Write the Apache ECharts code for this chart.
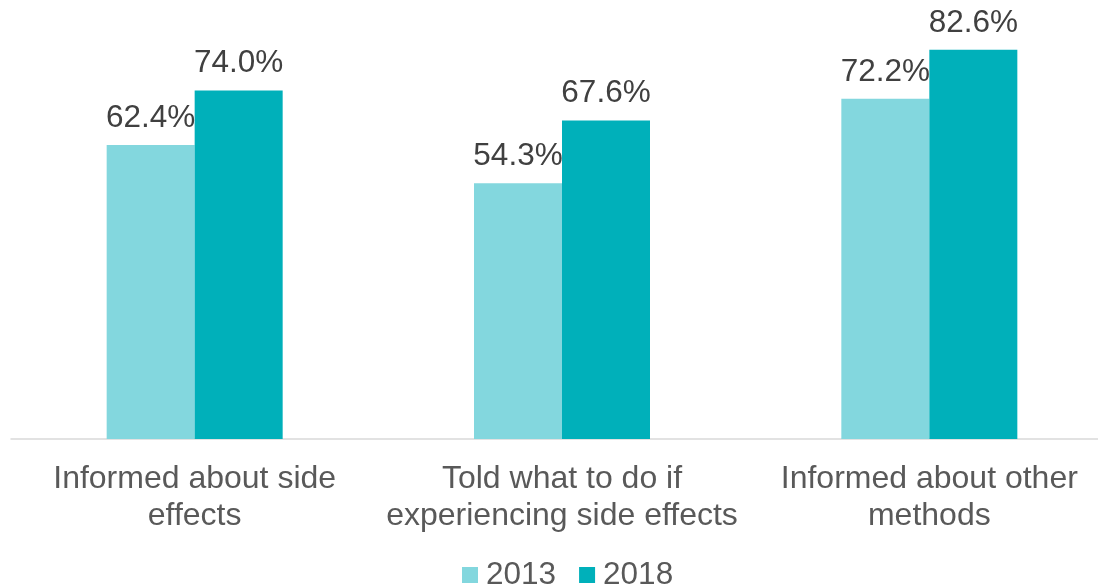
<!DOCTYPE html>
<html>
<head>
<meta charset="utf-8">
<script src="https://cdn.jsdelivr.net/npm/echarts@6/dist/echarts.min.js"></script>
<style>
  html, body { margin: 0; padding: 0; background: #ffffff; }
  #chart { width: 1098px; height: 587px; }
</style>
</head>
<body>
<div id="chart"></div>
<script>
// Categories and survey values (percent)
const categories = [
  'Informed about side\neffects',
  'Told what to do if\nexperiencing side effects',
  'Informed about other\nmethods'
];
const years = ['2013', '2018'];
const values2013 = [62.4, 54.3, 72.2];
const values2018 = [74.0, 67.6, 82.6];

const colors = ['#83d7de', '#00b0ba'];
const FONT = '"Liberation Sans", Arial, sans-serif';

const chart = echarts.init(document.getElementById('chart'), null, { renderer: 'canvas' });

function barSeries(name, data, color) {
  return {
    name: name,
    type: 'bar',
    data: data,
    barWidth: 88,
    barGap: '0%',
    itemStyle: { color: color },
    label: {
      show: true,
      position: 'top',
      distance: 11,
      formatter: p => p.value.toFixed(1) + '%',
      color: '#404040',
      fontSize: 31.5,
      fontFamily: FONT
    },
    emphasis: { disabled: true }
  };
}

chart.setOption({
  animation: false,
  backgroundColor: '#ffffff',
  grid: {
    left: 11, width: 1102, top: 15, bottom: 148,
    containLabel: false,
    outerBoundsMode: 'none'
  },
  legend: {
    data: years,
    top: 554,
    left: 457,
    itemWidth: 16,
    itemHeight: 16,
    itemGap: 23,
    icon: 'rect',
    textStyle: { color: '#595959', fontSize: 31.5, fontFamily: FONT, padding: [0, 0, 0, 3] }
  },
  xAxis: {
    type: 'category',
    data: categories,
    axisLine: { lineStyle: { color: '#d9d9d9', width: 1.5 } },
    axisTick: { show: false },
    axisLabel: {
      color: '#595959',
      fontSize: 32,
      fontFamily: FONT,
      lineHeight: 37,
      margin: 22,
      interval: 0
    }
  },
  yAxis: {
    type: 'value',
    min: 0,
    max: 90,
    show: false,
    splitLine: { show: false }
  },
  series: [
    barSeries(years[0], values2013, colors[0]),
    barSeries(years[1], values2018, colors[1])
  ]
});
</script>
</body>
</html>
